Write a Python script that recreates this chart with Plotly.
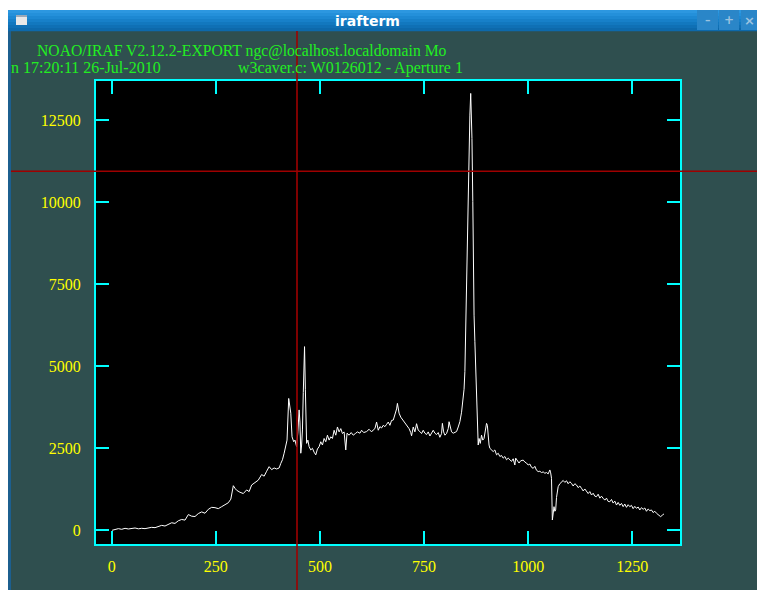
import plotly.graph_objects as go

# ---- data ----
pix = [1, 8, 16, 24, 32, 40, 48, 56, 64, 72, 80, 88, 96, 104, 112, 120, 128, 136, 144, 152,
       160, 168, 176, 184, 192, 200, 208, 216, 224, 232, 240, 248, 256, 264, 272, 280, 286, 292,
       296, 300, 308, 316, 324, 330, 336, 344, 352, 360, 366, 372, 378, 384, 390, 396, 402, 406,
       410, 414, 418, 421,
       425, 428, 430, 433, 437, 440, 444, 447, 450, 452, 454, 456, 458, 460, 463, 465, 468, 471,
       474, 478, 482, 486, 490, 494, 498, 502, 506, 510, 514, 518, 522, 526, 530, 534, 538, 542,
       546, 550, 554, 558, 562, 565, 570, 575, 580, 585, 590, 596, 600, 605, 612, 618, 624, 628,
       632, 636, 640, 644, 648, 652, 656, 660, 664, 668, 672, 676, 680, 684, 686, 688, 690, 694,
       698, 702, 706, 710, 714, 718, 720, 724, 728, 732, 736, 740, 744, 748, 752, 756, 760, 764,
       768, 772, 776, 780, 784, 788, 792, 794, 797, 800, 804, 808, 810, 813, 816, 820, 824, 828,
       832, 836, 840, 843, 846, 848, 850, 852, 854, 856, 858, 860, 862, 864, 865, 867, 868, 870,
       872, 874, 876, 878, 880, 882, 885, 888, 891, 894, 897, 900, 902, 904, 906, 908, 912, 916,
       920, 924, 928, 932, 936, 940, 944, 948, 952, 956, 960, 964, 968, 970, 974, 978, 982, 986,
       988, 992, 996, 1000, 1004, 1008, 1012, 1016, 1020, 1024, 1028, 1032, 1036, 1040, 1044,
       1048, 1052, 1054, 1056, 1058, 1060, 1062, 1064, 1066, 1068, 1070, 1072, 1076, 1080, 1084,
       1088, 1092, 1096, 1100, 1104, 1108, 1112, 1116, 1120, 1124, 1128, 1132, 1136, 1140, 1144,
       1148, 1152, 1156, 1160, 1164, 1168, 1172, 1176, 1180, 1184, 1188, 1192, 1196, 1200, 1204,
       1208, 1212, 1216, 1220, 1224, 1228, 1232, 1236, 1240, 1244, 1248, 1252, 1256, 1260, 1264,
       1268, 1272, 1276, 1280, 1284, 1288, 1292, 1296, 1300, 1304, 1308, 1312, 1316, 1318, 1322,
       1326]
flux = [0, 20, 50, 30, 60, 40, 55, 70, 45, 60, 50, 75, 90, 80, 120, 150, 130, 190, 230, 210,
        290, 330, 310, 480, 430, 420, 510, 560, 520, 640, 700, 690, 660, 720, 780, 840, 950, 1360,
        1280, 1220, 1160, 1120, 1230, 1180, 1380, 1450, 1530, 1700, 1650, 1800, 1940, 1850, 1900,
        1870, 1900, 2040, 2150, 2350, 2600, 2750,
        4020, 3800, 3570, 2850, 2700, 2750, 2550, 3000, 3670, 3300, 2350, 2600, 3060, 4200, 5600,
        4300, 2650, 2750, 2550, 2450, 2500, 2380, 2300, 2480, 2550, 2700, 2600, 2800, 2700, 2900,
        2750, 2850, 2800, 3050, 2900, 3150, 3000, 3100, 2950, 3000, 2450, 2960, 2900, 2980, 2900,
        2950, 3000, 2960, 3050, 2980, 3010, 3080, 3000, 3060, 3100, 3300, 3050, 3160, 3120, 3200,
        3160, 3230, 3300, 3200, 3350, 3360, 3500, 3700, 3870, 3700, 3570, 3450, 3380, 3300, 3220,
        3180, 3100, 2980, 2880, 3150, 3000, 3250, 3050, 3010, 2950, 3050, 2960, 2920, 3000, 2875,
        2950, 3050, 2960, 2920, 2980, 2835, 2950, 3260, 3000, 2900, 2950, 3100, 3310, 3150, 3000,
        2960, 2980, 3010, 3150, 3310, 3600, 3900, 4300, 4840, 6200, 7780, 9300, 10800, 11650,
        12660, 13320, 12660, 11950, 10020, 8500, 6560, 5750, 4900, 4125, 2700, 2600, 2800, 2650,
        2900, 2750, 2800, 3000, 3260, 3200, 2800, 2600, 2500, 2450, 2400, 2450, 2300, 2350, 2250,
        2280, 2200, 2250, 2150, 2200, 2140, 2100, 2180, 1990, 2200, 2100, 2050, 2120, 2150, 2140,
        2080, 2050, 1990, 2020, 1920, 1890, 1950, 1830, 1790, 1800, 1760, 1780, 1740, 1760, 1720,
        1840, 1750, 1585, 315, 600, 720, 580, 620, 1000, 1250, 1330, 1420, 1480, 1520, 1460, 1510,
        1420, 1480, 1430, 1350, 1420, 1380, 1300, 1350, 1280, 1200, 1260, 1180, 1120, 1180, 1075,
        1130, 1040, 1025, 1100, 980, 1040, 975, 920, 980, 880, 870, 940, 830, 890, 770, 850, 760,
        820, 720, 800, 700, 780, 720, 760, 660, 730, 670, 710, 620, 690, 640, 680, 580, 650, 600,
        620, 540, 580, 520, 470, 430, 415, 460, 500]

x_ticks = [0, 250, 500, 750, 1000, 1250]
x_tick_labels = ["0", "250", "500", "750", "1000", "1250"]
y_ticks = [0, 2500, 5000, 7500, 10000, 12500]
y_tick_labels = ["0", "2500", "5000", "7500", "10000", "12500"]

header_line1 = "NOAO/IRAF V2.12.2-EXPORT ngc@localhost.localdomain Mo"
header_line2a = "n 17:20:11 26-Jul-2010"
header_line2b = "w3caver.c: W0126012 - Aperture 1"
window_title = "irafterm"

# ---- geometry helpers (pixel -> paper) ----
W, H = 757, 590
L, R, T, B = 96, 680, 81, 544


def X(px):
    return (px - L) / (R - L)


def Y(py):
    return (B - py) / (B - T)


fig = go.Figure()
fig.add_trace(go.Scatter(x=pix, y=flux, mode="lines",
                         line=dict(color="white", width=1), hoverinfo="skip"))

shapes = []


def rect(x0, y0, x1, y1, color, layer="above"):
    shapes.append(dict(type="rect", xref="paper", yref="paper",
                       x0=X(x0), x1=X(x1), y0=Y(y0), y1=Y(y1),
                       fillcolor=color, line=dict(width=0), layer=layer))


# white surround
rect(0, 0, W, 10, "white")
rect(0, 0, 8, H, "white")
# left blue border
rect(8, 10, 11, H, "#1c5f8f")
# title bar gradient bands
bands = ["#2c97e0", "#2490da", "#1d88d2", "#1780c9", "#1278bf", "#0f70b5", "#0d69ab"]
n = len(bands)
for i, c in enumerate(bands):
    y0 = 10 + i * 21 / n
    rect(8, y0, W, y0 + 21 / n + 0.3, c)
# window icon
rect(16, 15, 27, 25, "#e8e8e8")
rect(16, 15, 27, 17, "#9aa9b8")
# buttons
for bx0, bx1 in [(697, 718), (719, 739), (741, W)]:
    rect(bx0, 10, bx1, 30, "#2a86c8")

# red crosshair
shapes.append(dict(type="line", xref="paper", yref="paper",
                   x0=X(297), x1=X(297), y0=Y(31), y1=Y(H),
                   line=dict(color="#9e0000", width=1.6), layer="above"))
shapes.append(dict(type="line", xref="paper", yref="paper",
                   x0=X(11), x1=X(W), y0=Y(171.3), y1=Y(171.3),
                   line=dict(color="#9e0000", width=1.4), layer="above"))

green = "#22ee22"
serif = "Liberation Serif"
annotations = [
    dict(text=header_line1, x=X(35), y=Y(51), xanchor="left", yanchor="middle",
         font=dict(family=serif, size=15.7, color=green)),
    dict(text=header_line2a, x=X(9), y=Y(68), xanchor="left", yanchor="middle",
         font=dict(family=serif, size=16, color=green)),
    dict(text=header_line2b, x=X(236), y=Y(68), xanchor="left", yanchor="middle",
         font=dict(family=serif, size=16, color=green)),
    dict(text="<b>" + window_title + "</b>", x=X(367), y=Y(20.5), xanchor="center",
         yanchor="middle", font=dict(family="DejaVu Sans", size=14, color="white")),
    dict(text="<b>–</b>", x=X(707.5), y=Y(21), xanchor="center", yanchor="middle",
         font=dict(family="DejaVu Sans", size=11, color="#9cc3e0")),
    dict(text="<b>+</b>", x=X(729), y=Y(20), xanchor="center", yanchor="middle",
         font=dict(family="DejaVu Sans", size=12, color="#9cc3e0")),
    dict(text="<b>×</b>", x=X(749), y=Y(20), xanchor="center", yanchor="middle",
         font=dict(family="DejaVu Sans", size=13, color="#9cc3e0")),
]
for a in annotations:
    a.update(xref="paper", yref="paper", showarrow=False)

axis_common = dict(showgrid=False, zeroline=False, showline=True, mirror="ticks",
                   linecolor="#00ffff", linewidth=2, ticks="inside", ticklen=13,
                   tickwidth=2, tickcolor="#00ffff",
                   tickfont=dict(family=serif, size=16, color="#ffff00"))

fig.update_layout(
    width=W, height=H,
    margin=dict(l=L, r=W - R, t=T, b=H - B, pad=0),
    paper_bgcolor="#2f4f4f", plot_bgcolor="black",
    showlegend=False,
    xaxis=dict(range=[-37.7, 1364.5], tickvals=x_ticks, ticktext=x_tick_labels,
               ticklabelstandoff=7, **axis_common),
    yaxis=dict(range=[-418, 13699], tickvals=y_ticks, ticktext=y_tick_labels,
               ticklabelstandoff=10, **axis_common),
    shapes=shapes, annotations=annotations,
)

fig.write_html("out.html",
               config={"displayModeBar": False, "staticPlot": True},
               post_script="document.body.style.margin='0';"
                           "document.body.style.overflow='hidden';")
